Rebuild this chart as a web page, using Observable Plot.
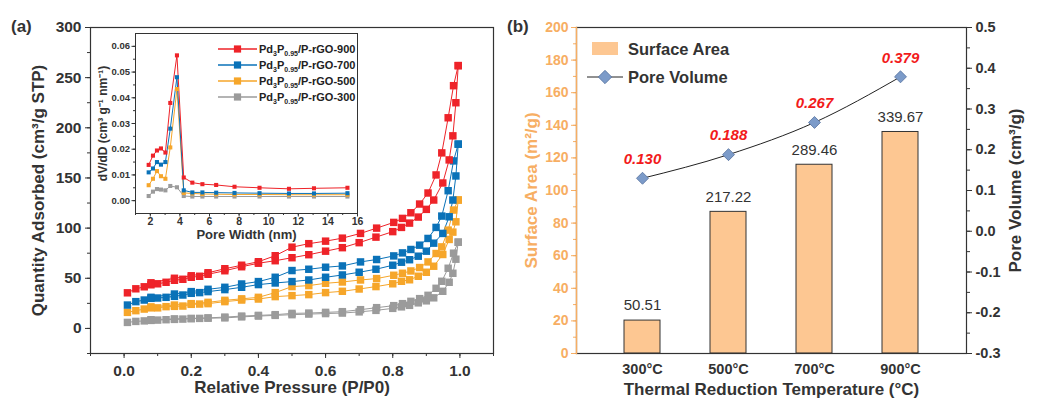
<!DOCTYPE html>
<html><head><meta charset="utf-8">
<script src="https://cdn.jsdelivr.net/npm/d3@7"></script>
<script src="https://cdn.jsdelivr.net/npm/@observablehq/plot@0.6"></script>
<style>
body{margin:0;background:#fff;font-family:Arial,"Liberation Sans",sans-serif;}
#wrap{position:relative;width:1040px;height:399px;overflow:hidden;background:#fff;}
.lbl{position:absolute;font-weight:bold;font-size:17px;color:#333;}
</style></head><body><div id="wrap"></div>
<script>
// ---------- Panel (a): N2 isotherms ----------
const seriesKeys = ["300", "500", "700", "900"];
const seriesColors = ["#9B9B9B", "#F6A62A", "#0A72B8", "#EE2329"];
const adsP = [0.01,0.035,0.06,0.08,0.1,0.125,0.15,0.175,0.2,0.225,0.25,0.3,0.35,0.4,0.45,0.5,0.55,0.6,0.65,0.7,0.75,0.8,0.826,0.85,0.876,0.9,0.922,0.949,0.968,0.979,0.988,0.995];
const desP = [0.995,0.981,0.965,0.946,0.929,0.905,0.88,0.854,0.829,0.803,0.752,0.704,0.65,0.6,0.55,0.5,0.45,0.4,0.35,0.3,0.25,0.2,0.15,0.08];
const ads900 = [35.5,39.5,41.5,43.5,44.5,46,48,49,51,52,54,57.5,61.5,65,67.5,70.5,73.5,77,80.5,85.5,91,96.5,100.7,105,111,118.7,128,145,168,192,225,262];
const des900 = [262,242,210,175,153,135,124,115.3,109.7,105.7,100,94.7,90,87,84.5,81,72.5,66.5,63,59.5,55.5,52.5,50,45.5];
const ads700 = [23.3,26.7,28.3,30,30.3,31,32,33.3,35,35.7,36.7,38.7,41,43.7,45.3,46.7,48.3,51,53.3,56,59,63,66,68.5,72,77,85,94.7,111.3,128,152,183.7];
const des700 = [183.7,167,137.3,112,100.7,89.7,83,78.7,75.3,72.3,68.7,66.3,62.3,61,59,57.7,51,46.7,44.3,41,39,36.7,34.3,31];
const ads500 = [16,17.7,19.3,20.5,20.5,21.7,22,22.3,24,24.3,24.7,26.7,28.3,29.3,31.7,32.7,33.7,35.7,37,39.3,41.7,44.5,47,48.5,52,56,62,73.7,88.7,96,106.3,128];
const des500 = [128,118,98,81.3,74.7,66.3,60.7,57.3,55,53,49.7,48.3,46.3,45,42.7,41.7,35.7,31,29.5,28,26,24.7,23.3,21.5];
const ads300 = [6,7,7.5,8,8.3,8.7,9,9.3,9.7,10,10.2,10.5,11.5,12.3,13,13.7,14.3,14.8,15.3,16.5,18,20,21.5,23,25.5,27.5,30.5,37,46,55,69,86];
const des300 = [86,75,60,47,40,33,29.7,27,24.7,22.7,20.7,18.7,16.7,16,15.3,15,13.7,13,12.3,11.3,10.5,10,9.5,8.7];
const yTicksA = [0,50,100,150,200,250,300];
const xTicksA = [0,0.2,0.4,0.6,0.8,1.0];

// ---------- Inset: pore size distribution ----------
const poreWidth = [1.89,2.18,2.45,2.72,3.02,3.35,3.8,4.26,4.84,5.52,6.45,7.69,9.38,11.37,13.06,15.32];
const psd900 = [0.0139,0.0175,0.0195,0.0203,0.0187,0.038,0.0565,0.009,0.007,0.0064,0.0061,0.0054,0.005,0.0046,0.0048,0.005];
const psd700 = [0.011,0.0125,0.015,0.014,0.015,0.028,0.048,0.004,0.0032,0.0032,0.0031,0.003,0.0029,0.0028,0.0028,0.0029];
const psd500 = [0.006,0.0085,0.0115,0.0095,0.0085,0.0207,0.0434,0.003,0.0028,0.0026,0.0025,0.0024,0.0024,0.0023,0.0023,0.0023];
const psd300 = [0.0018,0.0035,0.0045,0.0043,0.004,0.0057,0.0052,0.0018,0.0016,0.0016,0.0016,0.0016,0.0016,0.0016,0.0016,0.0016];
const insetYTicks = [0,0.01,0.02,0.03,0.04,0.05,0.06];
const insetXTicks = [2,4,6,8,10,12,14,16];
const legendOrder = ["900", "700", "500", "300"];

// ---------- Panel (b) ----------
const temps = ["300°C", "500°C", "700°C", "900°C"];
const barHeights = [20.2, 86.9, 115.8, 135.9];
const areaLabels = ["50.51", "217.22", "289.46", "339.67"];
const poreVolume = [0.130, 0.188, 0.267, 0.379];
const poreLabels = ["0.130", "0.188", "0.267", "0.379"];
const leftTicksB = [0,20,40,60,80,100,120,140,160,180,200];
const rightTicksB = [-0.3,-0.2,-0.1,0,0.1,0.2,0.3,0.4,0.5];

const FONT = "Arial, 'Liberation Sans', sans-serif";
const DARK = "#333";
const ORANGE = "#F7AE63";
const BARFILL = "#FDC792";
const wrap = document.getElementById("wrap");
function place(el, left, top) {
  el.style.position = "absolute";
  el.style.left = left + "px";
  el.style.top = top + "px";
  wrap.appendChild(el);
}
const colorScale = {type: "ordinal", domain: seriesKeys, range: seriesColors};
const B = "bold";

const adsMap = {"900": ads900, "700": ads700, "500": ads500, "300": ads300};
const desMap = {"900": des900, "700": des700, "500": des500, "300": des300};
const iso = [];
for (const k of seriesKeys) {
  adsP.forEach((p, j) => iso.push({s: k, g: k + "a", p, q: adsMap[k][j]}));
  desP.forEach((p, j) => iso.push({s: k, g: k + "d", p, q: desMap[k][j]}));
}
const minorY = d3.range(-25, 301, 25);
const minorX = d3.range(-1, 12).map(d => d / 10);

const plotA = Plot.plot({
  width: 520, height: 399,
  marginLeft: 90, marginRight: 27, marginTop: 27, marginBottom: 46,
  style: {fontFamily: FONT, fontSize: "15.5px", fontWeight: "bold", color: DARK, background: "transparent", overflow: "visible"},
  x: {domain: [-0.1, 1.1], label: null},
  y: {domain: [-25, 300], label: null},
  color: colorScale,
  marks: [
    Plot.axisY({ticks: minorY, tickSize: 3, tickFormat: () => "", label: null}),
    Plot.axisY({ticks: yTicksA, tickSize: 5, tickPadding: 4, fontWeight: B, label: null}),
    Plot.axisX({ticks: minorX, tickSize: 3, tickFormat: () => "", label: null}),
    Plot.axisX({ticks: xTicksA, tickSize: 5, tickPadding: 6, tickFormat: d3.format(".1f"), fontWeight: B, label: null}),
    Plot.line(iso, {x: "p", y: "q", z: "g", stroke: "s", strokeWidth: 1}),
    Plot.dot(iso, {x: "p", y: "q", symbol: "square", r: 4.2, fill: "s"}),
    Plot.frame({stroke: DARK, strokeWidth: 1.2}),
    Plot.text(["Quantity Adsorbed (cm³/g STP)"], {frameAnchor: "left", dx: -52, rotate: -90, textAnchor: "middle", lineAnchor: "middle", fontSize: 17, fontWeight: B, fill: DARK}),
    Plot.text(["Relative Pressure (P/P0)"], {frameAnchor: "bottom", dy: 34, textAnchor: "middle", lineAnchor: "middle", fontSize: 17, fontWeight: B, fill: DARK})
  ]
});
place(plotA, 0, 0);

// inset
const psdMap = {"900": psd900, "700": psd700, "500": psd500, "300": psd300};
const psd = [];
for (const k of seriesKeys) poreWidth.forEach((w, j) => psd.push({s: k, w, v: psdMap[k][j]}));
const inset = Plot.plot({
  width: 280, height: 220,
  marginLeft: 50, marginRight: 8, marginTop: 8, marginBottom: 32,
  style: {fontFamily: FONT, fontSize: "9.5px", fontWeight: "bold", color: DARK, background: "transparent", overflow: "visible"},
  x: {domain: [1, 16], label: null},
  y: {domain: [-0.005, 0.065], label: null},
  color: colorScale,
  marks: [
    Plot.axisY({ticks: d3.range(0, 13).map(d => d * 0.005), tickSize: 2, tickFormat: () => "", label: null}),
    Plot.axisY({ticks: insetYTicks, tickSize: 3.5, tickPadding: 2, tickFormat: d3.format(".2f"), fontWeight: B, label: null}),
    Plot.axisX({ticks: d3.range(1, 17), tickSize: 2, tickFormat: () => "", label: null}),
    Plot.axisX({ticks: insetXTicks, tickSize: 3.5, tickPadding: 1, fontSize: 10.5, fontWeight: B, label: null}),
    Plot.line(psd, {x: "w", y: "v", z: "s", stroke: "s", strokeWidth: 1}),
    Plot.dot(psd, {x: "w", y: "v", symbol: "square", r: 2.3, fill: "s"}),
    Plot.frame({stroke: DARK, strokeWidth: 1}),
    Plot.text(["dV/dD (cm³ g⁻¹ nm⁻¹)"], {frameAnchor: "left", dx: -32, rotate: -90, textAnchor: "middle", lineAnchor: "middle", fontSize: 12, fontWeight: B, fill: DARK}),
    Plot.text(["Pore Width (nm)"], {frameAnchor: "bottom", dy: 21.5, textAnchor: "middle", lineAnchor: "middle", fontSize: 13, fontWeight: B, fill: DARK})
  ]
});
place(inset, 85, 25);

// inset legend
const ns = "http://www.w3.org/2000/svg";
const leg = document.createElementNS(ns, "svg");
leg.setAttribute("width", 150); leg.setAttribute("height", 70);
leg.style.overflow = "visible";
legendOrder.forEach((k, i) => {
  const c = seriesColors[seriesKeys.indexOf(k)];
  const y = 8 + i * 16;
  leg.insertAdjacentHTML("beforeend",
    `<line x1="0" x2="39" y1="${y}" y2="${y}" stroke="${c}" stroke-width="1.3"/>` +
    `<rect x="${19.5 - 3.6}" y="${y - 3.6}" width="7.2" height="7.2" fill="${c}"/>` +
    `<text x="41" y="${y + 4}" font-family="${FONT}" font-size="11" font-weight="bold" fill="#222">Pd<tspan font-size="7" dy="3">3</tspan><tspan dy="-3">P</tspan><tspan font-size="7" dy="3">0.95</tspan><tspan dy="-3">/P-rGO-${k}</tspan></text>`);
});
place(leg, 218, 41);

// panel labels
const la = document.createElement("div"); la.className = "lbl"; la.textContent = "(a)"; place(la, 11, 17);
const lb = document.createElement("div"); lb.className = "lbl"; lb.textContent = "(b)"; place(lb, 507, 17);

// panel (b) bars
const xB = {type: "band", domain: temps, paddingInner: 0.583, paddingOuter: 0.551, label: null};
const plotB1 = Plot.plot({
  width: 520, height: 399,
  marginLeft: 56, marginRight: 74, marginTop: 27, marginBottom: 46,
  style: {fontFamily: FONT, fontSize: "14.5px", fontWeight: "bold", color: DARK, background: "transparent", overflow: "visible"},
  x: xB,
  y: {domain: [0, 200], label: null},
  marks: [
    Plot.axisY({ticks: d3.range(0, 201, 10), tickSize: 3, tickFormat: () => "", color: ORANGE, label: null}),
    Plot.axisY({ticks: leftTicksB, tickSize: 5, tickPadding: 3, color: ORANGE, fontSize: 14, fontWeight: B, label: null}),
    Plot.axisX({tickSize: 0, tickPadding: 10, fontWeight: B, label: null}),
    Plot.barY(barHeights, {x: temps, y: barHeights, fill: BARFILL, stroke: DARK, strokeWidth: 1}),
    Plot.text(barHeights, {x: temps, y: barHeights, text: areaLabels, dy: -15, fontSize: 15, fontWeight: "normal", fill: DARK}),
    Plot.frame({stroke: DARK, strokeWidth: 1.2}),
    Plot.frame({anchor: "left", stroke: ORANGE, strokeWidth: 1.4}),
    Plot.text(["Surface Area (m²/g)"], {frameAnchor: "left", dx: -45, rotate: -90, textAnchor: "middle", lineAnchor: "middle", fontSize: 17, fontWeight: B, fill: ORANGE}),
    Plot.text(["Thermal Reduction Temperature (°C)"], {frameAnchor: "bottom", dy: 36, textAnchor: "middle", lineAnchor: "middle", fontSize: 17, fontWeight: B, fill: DARK})
  ]
});
place(plotB1, 520, 0);

const plotB2 = Plot.plot({
  width: 520, height: 399,
  marginLeft: 56, marginRight: 74, marginTop: 27, marginBottom: 46,
  style: {fontFamily: FONT, fontSize: "14.5px", fontWeight: "bold", color: DARK, background: "transparent", overflow: "visible"},
  x: {...xB, axis: null},
  y: {domain: [-0.3, 0.5], label: null},
  marks: [
    Plot.axisY({anchor: "right", ticks: d3.range(-6, 11).map(d => d * 0.05), tickSize: 3, tickFormat: () => "", label: null}),
    Plot.axisY({anchor: "right", ticks: rightTicksB, tickSize: 5, tickPadding: 4, tickFormat: d => d.toFixed(1), fontWeight: B, label: null}),
    Plot.line(poreVolume, {x: temps, y: poreVolume, stroke: "#222", strokeWidth: 1, curve: "monotone-x"}),
    Plot.dot(poreVolume, {x: temps, y: poreVolume, symbol: "diamond2", r: 5.4, fill: "#7C9BC9", stroke: "#55719E", strokeWidth: 0.8}),
    Plot.text(poreVolume, {x: temps, y: poreVolume, text: poreLabels, dy: -19, fontSize: 15, fontWeight: B, fontStyle: "italic", fill: "#F21B1B"}),
    Plot.text(["Pore Volume (cm³/g)"], {frameAnchor: "right", dx: 49, rotate: -90, textAnchor: "middle", lineAnchor: "middle", fontSize: 17, fontWeight: B, fill: DARK})
  ]
});
place(plotB2, 520, 0);

// panel (b) legend
const legB = document.createElementNS(ns, "svg");
legB.setAttribute("width", 180); legB.setAttribute("height", 60);
legB.style.overflow = "visible";
legB.insertAdjacentHTML("beforeend",
  `<rect x="12" y="2" width="26" height="13" fill="${BARFILL}"/>` +
  `<text x="48" y="14.5" font-family="${FONT}" font-size="16.5" font-weight="bold" fill="${DARK}">Surface Area</text>` +
  `<line x1="7" x2="43" y1="37" y2="37" stroke="#222" stroke-width="1"/>` +
  `<path d="M25,30.3 L31.7,37 L25,43.7 L18.3,37 Z" fill="#7C9BC9" stroke="#55719E" stroke-width="0.8"/>` +
  `<text x="48" y="43" font-family="${FONT}" font-size="16.5" font-weight="bold" fill="${DARK}">Pore Volume</text>`);
place(legB, 580, 40);
</script></body></html>
